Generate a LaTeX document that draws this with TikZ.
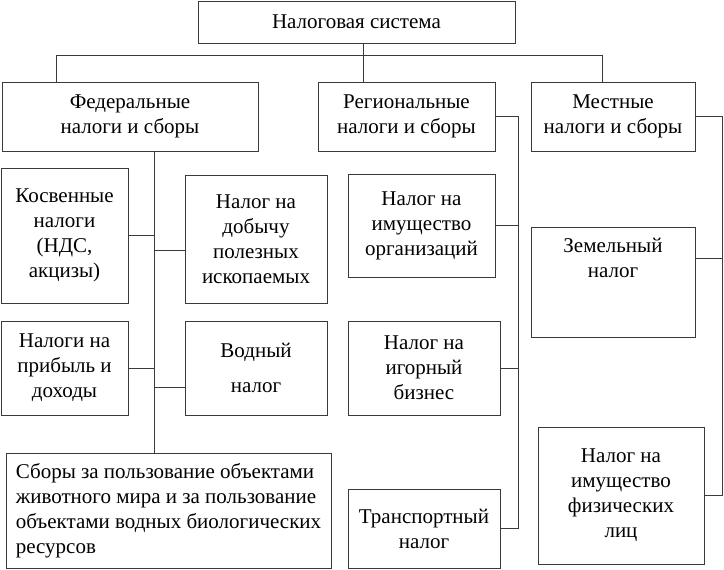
\documentclass[tikz,border=0pt]{standalone}
\usepackage{fontspec}
\setmainfont{Liberation Serif}
\usetikzlibrary{positioning,calc}
\definecolor{boxline}{HTML}{3A3A3A}

\begin{document}
\begin{tikzpicture}[
  x=1pt, y=-1pt,
  font=\fontsize{21}{25}\selectfont,
  bx/.style={draw=boxline, line width=0.9pt, fill=white, align=center, inner sep=2pt},
  txt/.style={align=center, inner sep=0pt},
  link/.style={draw=boxline, line width=0.9pt},
]
\useasboundingbox (0,0) rectangle (724,570);

% ---- Top : tax system and the three levels ----
\node[bx, minimum width=317, minimum height=42] (sys) at (356.5,22)  {Налоговая система};
\node[bx, minimum width=256, minimum height=69] (fed) at (130,116.5) {Федеральные\\налоги и сборы};
\node[bx, minimum width=177, minimum height=69] (reg) at (406.5,116.5) {Региональные\\налоги и сборы};
\node[bx, minimum width=164, minimum height=69] (loc) at (613,116.5) {Местные\\налоги и сборы};

% ---- Federal column ----
\node[bx, minimum width=127, minimum height=135] (kos)  at (64.5,235.5) {Косвенные\\налоги\\(НДС,\\акцизы)};
\node[bx, minimum width=142, minimum height=128] (ndpi) at (256,239)   {Налог на\\добычу\\полезных\\ископаемых};
\node[bx, minimum width=127, minimum height=94]  (prib) at (64.5,368)  {Налоги на\\прибыль и\\доходы};
\node[bx, minimum width=142, minimum height=94]  (vod)  at (256,368)   {Водный\\[10pt]налог};
\node[bx, minimum width=325, minimum height=115, align=left] (fees) at (168.5,510.5)
      {Сборы за пользование объектами\\животного мира и за пользование\\объектами водных биологических\\ресурсов};

% ---- Regional column ----
\node[bx, minimum width=147, minimum height=103] (imo) at (421.5,225.5) {Налог на\\имущество\\организаций};
\node[bx, minimum width=152, minimum height=94]  (igr) at (424,368)     {Налог на\\игорный\\бизнес};
\node[bx, minimum width=152, minimum height=79]  (tra) at (424,528.5)   {Транспортный\\налог};

% ---- Local column ----
\node[bx, minimum width=164, minimum height=110] (zem) at (613,282) {};
\node[txt] (zemT) at ([yshift=24pt]zem.center) {Земельный\\налог};
\node[bx, minimum width=166, minimum height=137] (fiz) at (621,495.5) {Налог на\\имущество\\физических\\лиц};

% ---- Top bus ----
\coordinate (busL) at (56,55);
\coordinate (busM) at (363,55);
\coordinate (busR) at (602,55);
\draw[link] (busM |- sys.south) -- (busM |- reg.north);
\draw[link] (busL |- fed.north) -- (busL) -- (busR) -- (busR |- loc.north);

% ---- Federal tree ----
\coordinate (fedX) at (154,300);
\draw[link] (fedX |- fed.south) -- (fedX |- fees.north);
\draw[link] (kos.east) -- (kos.east -| fedX);
\draw[link] ([yshift=-11pt]ndpi.west) -- ++(-31,0);
\draw[link] (prib.east) -- (prib.east -| fedX);
\draw[link] ([yshift=-19pt]vod.west) -- ++(-31,0);

% ---- Regional tree ----
\coordinate (regX) at (518,300);
\draw[link] (reg.east) -- (reg.east -| regX) -- (regX |- tra.east) -- (tra.east);
\draw[link] (imo.east) -- (imo.east -| regX);
\draw[link] (igr.east) -- (igr.east -| regX);

% ---- Local tree ----
\coordinate (locX) at (722.5,300);
\draw[link] (loc.east) -- (loc.east -| locX) -- (locX |- fiz.east) -- (fiz.east);
\draw[link] ([yshift=24pt]zem.east) -- ++(27.5,0);
\end{tikzpicture}
\end{document}
